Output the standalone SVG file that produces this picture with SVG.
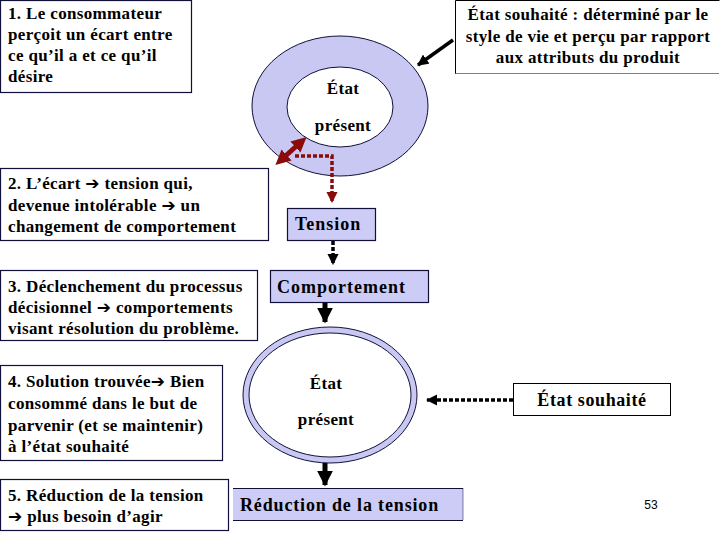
<svg xmlns="http://www.w3.org/2000/svg" width="720" height="540" viewBox="0 0 720 540">
<defs>
<style>
text.t{font-family:'Liberation Serif','DejaVu Serif',serif;font-weight:bold;font-size:17px;fill:#000;letter-spacing:0.35px}
.b{fill:#fff;stroke:#10103a;stroke-width:1.2}
.lav{fill:#ccccf7;stroke:#10103a;stroke-width:1.2}
</style>
<marker id="ah" viewBox="0 0 10 10" refX="9" refY="5" markerWidth="3.2" markerHeight="3.2" orient="auto"><path d="M0,0 L10,5 L0,10 Z" fill="#000"/></marker>
<marker id="ahr" viewBox="0 0 10 10" refX="9" refY="5" markerWidth="3.2" markerHeight="3.2" orient="auto"><path d="M0,0 L10,5 L0,10 Z" fill="#8b0a0a"/></marker>
<marker id="ahr2" viewBox="0 0 10 10" refX="5" refY="5" markerWidth="3" markerHeight="3" orient="auto-start-reverse"><path d="M0,0 L10,5 L0,10 Z" fill="#8b0a0a"/></marker>
</defs>
<rect width="720" height="540" fill="#fff"/>

<g id="n1"><rect class="b" x="0.5" y="0.5" width="191" height="92"/>
<text class="t" x="8" y="19">1.  Le consommateur</text>
<text class="t" x="8" y="40">perçoit un écart entre</text>
<text class="t" x="8" y="61">ce qu’il a et ce qu’il</text>
<text class="t" x="8" y="82">désire</text></g>

<g id="ring1"><ellipse cx="340" cy="106" rx="88" ry="70" fill="#c8c8f3" stroke="#10103a" stroke-width="1"/>
<ellipse cx="340" cy="107" rx="53" ry="40" fill="#fff" stroke="#10103a" stroke-width="1"/>
<text class="t" x="343" y="94" text-anchor="middle">État</text>
<text class="t" x="343" y="131" text-anchor="middle">présent</text></g>

<g id="souhaite1"><rect x="455.5" y="0.5" width="264" height="73" fill="#fff"/>
<path d="M455.5,73.5 V0.5 H719.5" fill="none" stroke="#000" stroke-width="1"/>
<path d="M455.5,73.5 H719.5" fill="none" stroke="#000" stroke-width="1" stroke-dasharray="1 1"/>
<text class="t" x="588" y="20" text-anchor="middle">État souhaité : déterminé par le</text>
<text class="t" x="588" y="42" text-anchor="middle">style de vie et perçu par rapport</text>
<text class="t" x="588" y="63" text-anchor="middle">aux attributs du produit</text></g>

<g id="n2"><rect class="b" x="0.5" y="168.5" width="268" height="72"/>
<text class="t" x="8" y="189">2. L’écart <tspan font-family="DejaVu Sans">➔</tspan> tension qui,</text>
<text class="t" x="8" y="211">devenue intolérable <tspan font-family="DejaVu Sans">➔</tspan> un</text>
<text class="t" x="8" y="232">changement de comportement</text></g>

<g id="n3"><rect class="b" x="0.5" y="270.5" width="257" height="70"/>
<text class="t" x="8" y="292">3. Déclenchement du processus</text>
<text class="t" x="8" y="313">décisionnel <tspan font-family="DejaVu Sans">➔</tspan> comportements</text>
<text class="t" x="8" y="334">visant résolution du problème.</text></g>

<g id="n4"><rect class="b" x="0.5" y="365.5" width="222" height="95"/>
<text class="t" x="8" y="387">4. Solution trouvée<tspan font-family="DejaVu Sans">➔</tspan> Bien</text>
<text class="t" x="8" y="409">consommé dans le but de</text>
<text class="t" x="8" y="431">parvenir (et se maintenir)</text>
<text class="t" x="8" y="452">à l’état souhaité</text></g>

<g id="n5"><rect class="b" x="0.5" y="479.5" width="228" height="51"/>
<text class="t" x="8" y="501">5. Réduction de la tension</text>
<text class="t" x="8" y="522"><tspan font-family="DejaVu Sans">➔</tspan> plus besoin d’agir</text></g>

<g id="tension"><rect class="lav" x="287.5" y="208.5" width="88" height="32"/>
<text class="t" x="295" y="230" style="font-size:18px;letter-spacing:1px">Tension</text></g>

<g id="comportement"><rect class="lav" x="270.5" y="270.5" width="158" height="32"/>
<text class="t" x="277" y="293" style="font-size:18px;letter-spacing:1px">Comportement</text></g>

<g id="ring2"><ellipse cx="330" cy="395" rx="87" ry="68" fill="#c8c8f3" stroke="#10103a" stroke-width="1"/>
<ellipse cx="330" cy="395" rx="81" ry="62" fill="#fff" stroke="#10103a" stroke-width="1"/>
<text class="t" x="326" y="389" text-anchor="middle">État</text>
<text class="t" x="326" y="425" text-anchor="middle">présent</text></g>

<g id="souhaite2"><rect x="513.5" y="383.5" width="157" height="32" fill="#fff" stroke="#000" stroke-width="1"/>
<text class="t" x="592" y="406" text-anchor="middle" style="font-size:18px;letter-spacing:0.6px">État souhaité</text></g>

<g id="reduction"><rect x="233" y="488.5" width="230" height="32" fill="#ccccf7"/>
<path d="M233,488.5 H463 M233,520.5 H463" stroke="#10103a" stroke-width="1.2"/>
<path d="M463,488.5 V520.5" stroke="#10103a" stroke-width="1" stroke-dasharray="1 1"/>
<text class="t" x="240" y="511" style="font-size:18px;letter-spacing:0.85px">Réduction de la tension</text></g>

<g id="connectors">
<line x1="453" y1="40" x2="418" y2="65" stroke="#000" stroke-width="3.5" marker-end="url(#ah)"/>
<line x1="281" y1="160" x2="301" y2="142" stroke="#8b0a0a" stroke-width="5" marker-start="url(#ahr2)" marker-end="url(#ahr2)"/>
<path d="M295,156 H332 V202" fill="none" stroke="#8b0a0a" stroke-width="3.5" stroke-dasharray="4 2" marker-end="url(#ahr)"/>
<line x1="333" y1="241" x2="333" y2="264" stroke="#000" stroke-width="3.5" stroke-dasharray="4 2" marker-end="url(#ah)"/>
<line x1="325" y1="303" x2="325" y2="322" stroke="#000" stroke-width="5" marker-end="url(#ah)"/>
<line x1="325" y1="463" x2="325" y2="485" stroke="#000" stroke-width="5" marker-end="url(#ah)"/>
<line x1="513" y1="400" x2="427" y2="400" stroke="#000" stroke-width="3.5" stroke-dasharray="4 2" marker-end="url(#ah)"/>
</g>

<text x="651" y="509" text-anchor="middle" font-family="Liberation Sans, Arial, sans-serif" font-size="12">53</text>
</svg>
